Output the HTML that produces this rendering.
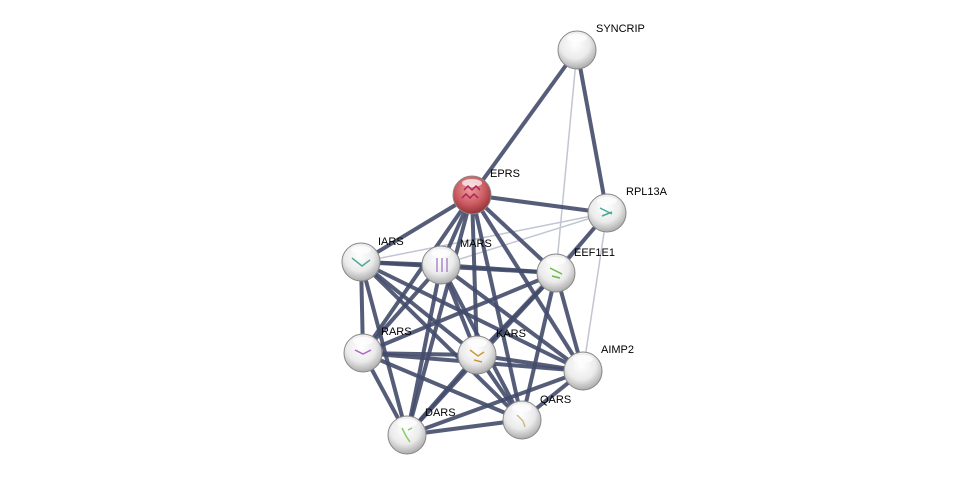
<!DOCTYPE html>
<html><head><meta charset="utf-8"><style>
html,body{margin:0;padding:0;background:#fff;width:975px;height:480px;overflow:hidden}
text{font-family:"Liberation Sans",sans-serif;font-size:11px;fill:#000}
</style></head><body>
<svg width="975" height="480" viewBox="0 0 975 480" xmlns="http://www.w3.org/2000/svg">
<defs>
<radialGradient id="g" cx="0.45" cy="0.35" r="0.7">
<stop offset="0" stop-color="#ffffff"/><stop offset="0.55" stop-color="#ebebeb"/><stop offset="1" stop-color="#a0a0a0"/></radialGradient>
<radialGradient id="r" cx="0.45" cy="0.35" r="0.7">
<stop offset="0" stop-color="#eca0a0"/><stop offset="0.55" stop-color="#cc5c62"/><stop offset="1" stop-color="#8a2a30"/></radialGradient>
</defs>
<g stroke="#c2c5d2" stroke-width="1.5">
<line x1="577" y1="50" x2="556" y2="273"/>
<line x1="607" y1="213" x2="361" y2="262"/>
<line x1="607" y1="213" x2="441" y2="265"/>
<line x1="607" y1="213" x2="583" y2="371"/>
<line x1="607" y1="213" x2="477" y2="355"/>
</g>
<g stroke="#434b6a" stroke-width="4" stroke-opacity="0.9">
<line x1="577" y1="50" x2="472" y2="195"/>
<line x1="577" y1="50" x2="607" y2="213"/>
<line x1="472" y1="195" x2="607" y2="213"/>
<line x1="607" y1="213" x2="556" y2="273"/>
<line x1="472" y1="195" x2="361" y2="262"/>
<line x1="472" y1="195" x2="441" y2="265"/>
<line x1="472" y1="195" x2="556" y2="273"/>
<line x1="472" y1="195" x2="363" y2="353"/>
<line x1="472" y1="195" x2="477" y2="355"/>
<line x1="472" y1="195" x2="407" y2="435"/>
<line x1="472" y1="195" x2="522" y2="420"/>
<line x1="472" y1="195" x2="583" y2="371"/>
<line x1="361" y1="262" x2="441" y2="265"/>
<line x1="361" y1="262" x2="556" y2="273"/>
<line x1="361" y1="262" x2="363" y2="353"/>
<line x1="361" y1="262" x2="477" y2="355"/>
<line x1="361" y1="262" x2="407" y2="435"/>
<line x1="361" y1="262" x2="522" y2="420"/>
<line x1="361" y1="262" x2="583" y2="371"/>
<line x1="441" y1="265" x2="556" y2="273"/>
<line x1="441" y1="265" x2="363" y2="353"/>
<line x1="441" y1="265" x2="477" y2="355"/>
<line x1="441" y1="265" x2="407" y2="435"/>
<line x1="441" y1="265" x2="522" y2="420"/>
<line x1="441" y1="265" x2="583" y2="371"/>
<line x1="556" y1="273" x2="363" y2="353"/>
<line x1="556" y1="273" x2="477" y2="355"/>
<line x1="556" y1="273" x2="407" y2="435"/>
<line x1="556" y1="273" x2="522" y2="420"/>
<line x1="556" y1="273" x2="583" y2="371"/>
<line x1="363" y1="353" x2="477" y2="355"/>
<line x1="363" y1="353" x2="407" y2="435"/>
<line x1="363" y1="353" x2="522" y2="420"/>
<line x1="363" y1="353" x2="583" y2="371"/>
<line x1="477" y1="355" x2="407" y2="435"/>
<line x1="477" y1="355" x2="522" y2="420"/>
<line x1="477" y1="355" x2="583" y2="371"/>
<line x1="407" y1="435" x2="522" y2="420"/>
<line x1="407" y1="435" x2="583" y2="371"/>
<line x1="522" y1="420" x2="583" y2="371"/>
</g>
<g stroke="#888" stroke-width="1">
<circle cx="577" cy="50" r="19" fill="url(#g)"/>
<circle cx="472" cy="195" r="19" fill="url(#r)"/>
<circle cx="607" cy="213" r="19" fill="url(#g)"/>
<circle cx="361" cy="262" r="19" fill="url(#g)"/>
<circle cx="441" cy="265" r="19" fill="url(#g)"/>
<circle cx="556" cy="273" r="19" fill="url(#g)"/>
<circle cx="363" cy="353" r="19" fill="url(#g)"/>
<circle cx="477" cy="355" r="19" fill="url(#g)"/>
<circle cx="583" cy="371" r="19" fill="url(#g)"/>
<circle cx="522" cy="420" r="19" fill="url(#g)"/>
<circle cx="407" cy="435" r="19" fill="url(#g)"/>
</g>
<g fill="#fff" fill-opacity="0.7">
<ellipse cx="577" cy="38" rx="10" ry="4"/>
<ellipse cx="472" cy="183" rx="10" ry="4"/>
<ellipse cx="607" cy="201" rx="10" ry="4"/>
<ellipse cx="361" cy="250" rx="10" ry="4"/>
<ellipse cx="441" cy="253" rx="10" ry="4"/>
<ellipse cx="556" cy="261" rx="10" ry="4"/>
<ellipse cx="363" cy="341" rx="10" ry="4"/>
<ellipse cx="477" cy="343" rx="10" ry="4"/>
<ellipse cx="583" cy="359" rx="10" ry="4"/>
<ellipse cx="522" cy="408" rx="10" ry="4"/>
<ellipse cx="407" cy="423" rx="10" ry="4"/>
</g>
<g fill="none" stroke-width="1.5">
<path d="M464 190 l4 -4 l4 4 l4 -4 l4 4 M462 198 l4 -4 l4 4 l4 -4 l4 4" stroke="#b0205a"/>
<path d="M600 208 l12 6 M602 216 l10 -4" stroke="#4a9"/>
<path d="M352 258 l10 8 l8 -6" stroke="#5a9"/>
<path d="M437 258 v14 M442 258 v14 M447 258 v14" stroke="#a8c"/>
<path d="M550 268 l12 6 M552 276 l8 2" stroke="#6b4"/>
<path d="M355 350 l8 4 l8 -4" stroke="#a6c"/>
<path d="M470 350 l8 6 l6 -4 M474 360 l8 2" stroke="#c93"/>
<path d="M517 415 l6 6 l2 6" stroke="#cb8"/>
<path d="M402 428 l4 8 l4 6 M408 430 l4 -2" stroke="#8c6"/>
</g>
<text x="596" y="32">SYNCRIP</text>
<text x="490" y="177">EPRS</text>
<text x="626" y="195">RPL13A</text>
<text x="378" y="245">IARS</text>
<text x="460" y="247">MARS</text>
<text x="574" y="256">EEF1E1</text>
<text x="381" y="335">RARS</text>
<text x="496" y="337">KARS</text>
<text x="601" y="353">AIMP2</text>
<text x="540" y="403">QARS</text>
<text x="425" y="416">DARS</text>
</svg>
</body></html>
